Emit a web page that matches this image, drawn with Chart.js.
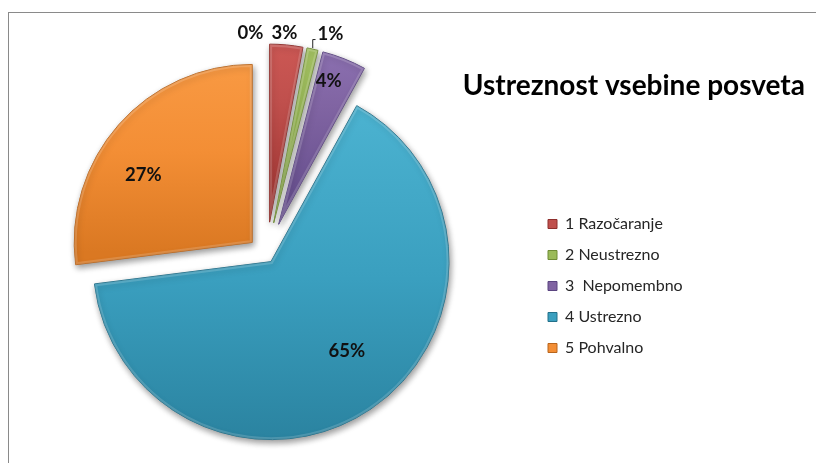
<!DOCTYPE html>
<html>
<head>
<meta charset="utf-8">
<script src="https://cdn.jsdelivr.net/npm/chart.js@4.4.1/dist/chart.umd.min.js"></script>
<style>
  html, body { margin: 0; padding: 0; background: #ffffff; }
  #wrap { width: 816px; height: 463px; position: relative; }
</style>
</head>
<body>
<div id="wrap"><canvas id="c" width="816" height="463"></canvas></div>
<script>
// ---------- data ----------
const categories = ['', '1 Razočaranje', '2 Neustrezno', '3  Nepomembno', '4 Ustrezno', '5 Pohvalno'];
const values = [0, 3, 1, 4, 65, 27];
const chartTitle = 'Ustreznost vsebine posveta';

// ---------- styles ----------
const baseColors   = ['#999999', '#C0504D', '#9BBB59', '#8064A2', '#3A9FBF', '#F38E35'];
const topColors    = ['#aaaaaa', '#D35C58', '#ADCA6B', '#9176B8', '#4BB2D0', '#F99B45'];
const bottomColors = ['#888888', '#A63A37', '#84A443', '#68508F', '#2A829F', '#DA7822'];
const edgeColors   = ['#777777', '#8E2F2C', '#6F8C35', '#5A4480', '#23708A', '#B8651C'];
const explode      = [34, 33, 33, 33, 8, 19];      // px, radial explosion of each slice
const PIE_RADIUS   = 178;
const labelRadius  = [1.06, 1.065, 1.11, 0.85, 0.66, 0.72];
const labelShift   = [-4.9, -0.9, 4.1, -2.3, -6, -9.6]; // degrees
const LEADER_INDEX = 2;
const LEGEND_WIDTH = 272;

function arcGeom(arc, i) {
  const p = arc.getProps(['x', 'y', 'startAngle', 'endAngle', 'outerRadius'], true);
  const mid = (p.startAngle + p.endAngle) / 2;
  const dx = Math.cos(mid) * explode[i];
  const dy = Math.sin(mid) * explode[i];
  return { x: p.x, y: p.y, ax: p.x + dx, ay: p.y + dy, dx, dy, mid, r: p.outerRadius, start: p.startAngle, end: p.endAngle };
}

function sliceFill(context) {
  const i = context.dataIndex;
  const el = context.element;
  if (!el || !isFinite(el.x) || !isFinite(el.y) || !isFinite(el.outerRadius) || !isFinite(el.startAngle) || !isFinite(el.endAngle)) {
    return baseColors[i];
  }
  const g = arcGeom(el, i);
  let minY = g.ay, maxY = g.ay;
  const steps = 48;
  for (let k = 0; k <= steps; k++) {
    const a = g.start + (g.end - g.start) * k / steps;
    const y = g.ay + Math.sin(a) * g.r;
    minY = Math.min(minY, y); maxY = Math.max(maxY, y);
  }
  if (maxY - minY < 1) maxY = minY + 1;
  const grad = context.chart.ctx.createLinearGradient(0, minY, 0, maxY);
  grad.addColorStop(0, topColors[i]);
  grad.addColorStop(0.5, baseColors[i]);
  grad.addColorStop(1, bottomColors[i]);
  return grad;
}

const framePlugin = {
  id: 'frame',
  beforeDraw(chart) {
    const ctx = chart.ctx;
    ctx.save();
    ctx.strokeStyle = '#8a8a8a';
    ctx.lineWidth = 1;
    ctx.strokeRect(8.5, 12.5, 2000, 2000);
    ctx.restore();
  }
};

const legendWidthPlugin = {
  id: 'legendWidth',
  afterInit(chart) {
    const lg = chart.legend;
    if (!lg) return;
    const fit = lg.fit;
    lg.fit = function () { fit.call(this); if (this.options.display) this.width = LEGEND_WIDTH; };
  }
};

const explodedPiePlugin = {
  id: 'explodedPie',
  beforeDatasetDraw(chart, args) {
    const ctx = chart.ctx;
    const meta = args.meta;
    meta.data.forEach((arc, i) => {
      const g = arcGeom(arc, i);
      ctx.save();
      ctx.shadowColor = 'rgba(0,0,0,0.40)';
      ctx.shadowBlur = 6;
      ctx.shadowOffsetX = 1.5;
      ctx.shadowOffsetY = 3;
      ctx.translate(g.dx, g.dy);
      arc.draw(ctx, chart.chartArea);
      ctx.restore();
      // soft bevel highlight along the slice's edges
      if (arc.circumference > 0) {
        ctx.save();
        ctx.beginPath();
        ctx.moveTo(g.ax, g.ay);
        ctx.arc(g.ax, g.ay, g.r, g.start, g.end);
        ctx.closePath();
        ctx.clip();
        ctx.lineWidth = 5;
        ctx.strokeStyle = 'rgba(255,255,255,0.16)';
        ctx.stroke();
        ctx.restore();
      }
    });
    return false;
  },
  afterDatasetsDraw(chart) {
    const ctx = chart.ctx;
    const meta = chart.getDatasetMeta(0);
    const total = values.reduce((a, b) => a + b, 0);
    ctx.save();
    ctx.font = 'bold 18.5px Lato';
    ctx.fillStyle = '#111111';
    ctx.textAlign = 'center';
    ctx.textBaseline = 'middle';
    meta.data.forEach((arc, i) => {
      const g = arcGeom(arc, i);
      const a = g.mid + labelShift[i] * Math.PI / 180;
      const d = labelRadius[i] * g.r;
      const x = g.ax + Math.cos(a) * d;
      const y = g.ay + Math.sin(a) * d;
      const txt = Math.round(values[i] / total * 100) + '%';
      ctx.fillText(txt, x, y);
      if (i === LEADER_INDEX) {
        const w = ctx.measureText(txt).width;
        const px = g.ax + Math.cos(g.mid) * (g.r + 1);
        const py = g.ay + Math.sin(g.mid) * (g.r + 1);
        ctx.save();
        ctx.strokeStyle = '#222222';
        ctx.lineWidth = 1;
        ctx.beginPath();
        ctx.moveTo(px, py);
        ctx.lineTo(px, y + 6);
        ctx.lineTo(x - w / 2 - 2, y + 6);
        ctx.stroke();
        ctx.restore();
      }
    });
    ctx.restore();
  }
};

const chart = new Chart(document.getElementById('c'), {
  type: 'pie',
  data: {
    labels: categories,
    datasets: [{
      data: values,
      backgroundColor: sliceFill,
      borderColor: edgeColors,
      borderWidth: 1,
      offset: 0,
      hoverOffset: 0,
      clip: false
    }]
  },
  options: {
    responsive: false,
    animation: false,
    events: [],
    radius: PIE_RADIUS,
    layout: { padding: { top: 0, left: 0, right: 11, bottom: 92 } },
    plugins: {
      tooltip: { enabled: false },
      title: {
        display: true,
        text: chartTitle,
        align: 'end',
        color: '#000000',
        font: { family: 'Lato', size: 28, weight: 'bold' },
        padding: { top: 69.2, bottom: 36.2 }
      },
      legend: {
        position: 'right',
        align: 'end',
        labels: {
          boxWidth: 9,
          boxHeight: 9,
          padding: 15,
          color: '#262626',
          font: { family: 'Lato', size: 16 },
          generateLabels: () => categories
            .map((label, i) => ({
              text: label, fillStyle: baseColors[i], strokeStyle: edgeColors[i],
              lineWidth: 1, fontColor: '#262626', hidden: false, index: i
            }))
            .filter(item => item.text !== '')
        }
      }
    }
  },
  plugins: [framePlugin, legendWidthPlugin, explodedPiePlugin]
});
chart.update('none');
</script>
</body>
</html>
